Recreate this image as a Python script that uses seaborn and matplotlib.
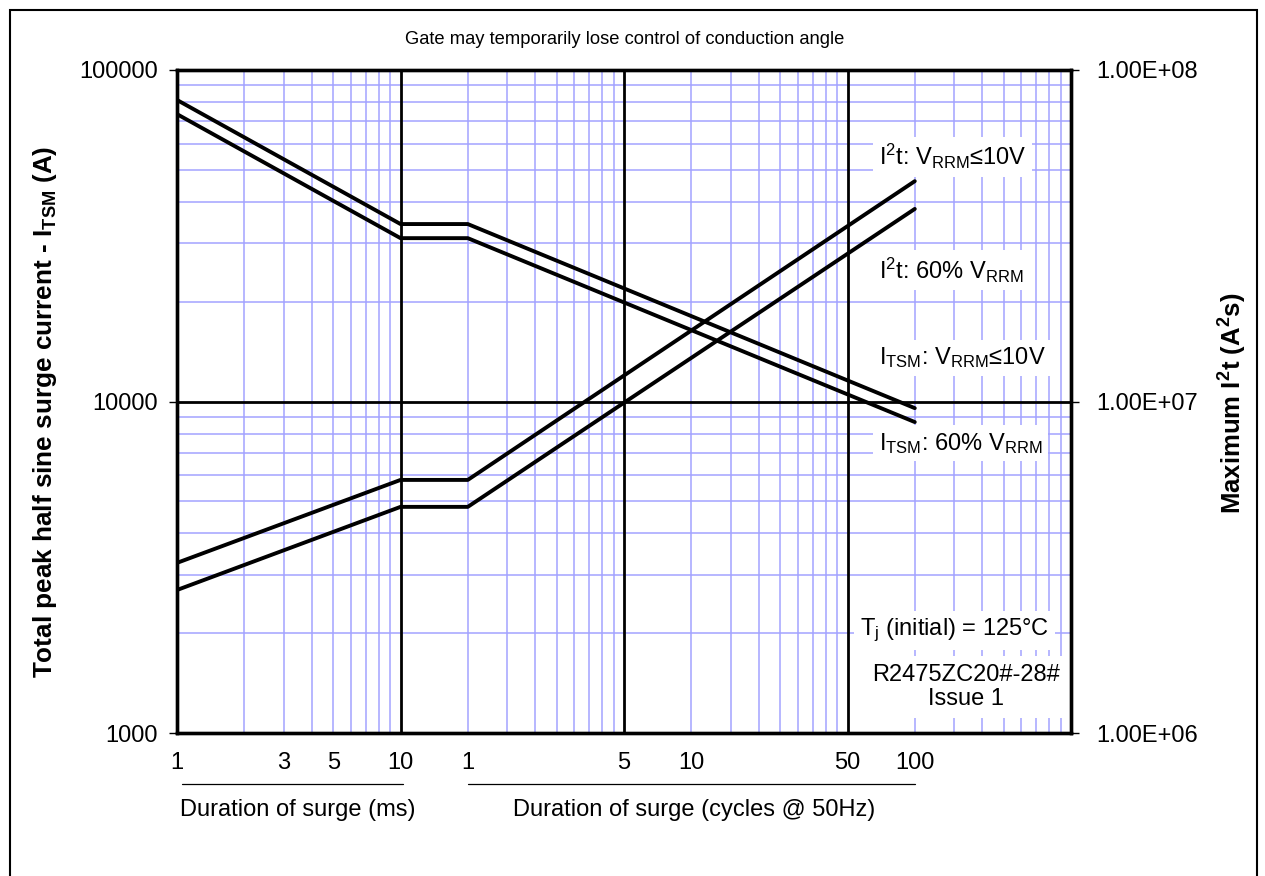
import numpy as np
import pandas as pd
import matplotlib
matplotlib.use("Agg")
import matplotlib.pyplot as plt
import matplotlib.ticker as mticker
import matplotlib.transforms as mtransforms
from matplotlib.patches import Rectangle
import seaborn as sns

# data (duration in ms, 1 cycle @ 50Hz = 20 ms)
t_ms = [1, 10, 20, 2000]
itsm_10v = [81200, 34300, 34300, 9550]
itsm_60 = [73600, 31100, 31100, 8670]
i2t_10v = [3.26e6, 5.80e6, 5.80e6, 4.62e7]
i2t_60 = [2.70e6, 4.81e6, 4.81e6, 3.81e7]

tick_pos = [1, 3, 5, 10, 20, 100, 200, 1000, 2000]
tick_lab = ["1", "3", "5", "10", "1", "5", "10", "50", "100"]

sns.set_theme(style="white")
plt.rcParams['font.family'] = ['Liberation Sans', 'DejaVu Sans']
plt.rcParams['mathtext.fontset'] = 'custom'
plt.rcParams['mathtext.rm'] = 'Liberation Sans'
plt.rcParams['mathtext.it'] = 'Liberation Sans'
plt.rcParams['mathtext.bf'] = 'Liberation Sans:bold'
for k in ['text.color', 'axes.labelcolor', 'xtick.color', 'ytick.color']:
    plt.rcParams[k] = 'black'

df_itsm = pd.DataFrame({
    't': t_ms * 2,
    'v': itsm_10v + itsm_60,
    'curve': ['ITSM 10V'] * 4 + ['ITSM 60%'] * 4,
})
df_i2t = pd.DataFrame({
    't': t_ms * 2,
    'v': i2t_10v + i2t_60,
    'curve': ['I2t 10V'] * 4 + ['I2t 60%'] * 4,
})

fig = plt.figure(figsize=(12.65, 8.76), dpi=100)
ax = fig.add_axes([177 / 1265, 1 - 733 / 876, (1071 - 177) / 1265, (733 - 70) / 876])
ax2 = ax.twinx()

blue = '#a3a3ff'
ax.set_xscale('log')
ax.set_yscale('log')
ax2.set_yscale('log')
ax.set_xlim(1, 10000)
ax.set_ylim(1000, 100000)
ax2.set_ylim(1e6, 1e8)

# grid
ax.xaxis.remove_overlapping_locs = False
ax.xaxis.set_minor_locator(mticker.LogLocator(base=10, subs=np.arange(2, 10)))
ax.yaxis.set_minor_locator(mticker.LogLocator(base=10, subs=np.arange(2, 10)))
ax.grid(which='minor', axis='both', color=blue, lw=1.1, zorder=0)
ax.grid(which='major', visible=False)
ax2.grid(False)
for xv in [10, 100, 1000]:
    ax.axvline(xv, color='black', lw=2.0, zorder=1)
ax.axhline(10000, color='black', lw=2.0, zorder=1)

sns.lineplot(data=df_itsm, x='t', y='v', hue='curve', palette=['black', 'black'],
             estimator=None, sort=False, lw=2.8, legend=False, ax=ax, zorder=3)
sns.lineplot(data=df_i2t, x='t', y='v', hue='curve', palette=['black', 'black'],
             estimator=None, sort=False, lw=2.8, legend=False, ax=ax2, zorder=3)
ax.set_xlabel('')
ax.set_ylabel('')
ax2.set_ylabel('')

# ticks
ax.set_xticks(tick_pos, labels=tick_lab)
ax.tick_params(axis='x', which='both', length=0, pad=14, labelsize=17)
ax.set_yticks([1000, 10000, 100000], labels=['1000', '10000', '100000'])
ax.tick_params(axis='y', which='major', length=6, width=1, pad=8, labelsize=17, left=True)
ax.tick_params(axis='y', which='minor', length=0)
ax2.set_yticks([1e6, 1e7, 1e8], labels=['1.00E+06', '1.00E+07', '1.00E+08'])
ax2.tick_params(axis='y', which='major', length=6, width=1, pad=12, labelsize=17, right=True)
ax2.tick_params(axis='y', which='minor', length=0)

for a in (ax, ax2):
    for s in a.spines.values():
        s.set_color('black')
        s.set_linewidth(2.4)

# curve labels
box = dict(facecolor='white', edgecolor='none', pad=4)
lab_x = 0.785
ax.text(lab_x, 0.869, r'I$^{2}$t: V$_{\mathrm{RRM}}$≤10V', transform=ax.transAxes,
        fontsize=17, va='center', ha='left', bbox=box, zorder=5)
ax.text(lab_x, 0.698, r'I$^{2}$t: 60% V$_{\mathrm{RRM}}$', transform=ax.transAxes,
        fontsize=17, va='center', ha='left', bbox=box, zorder=5)
ax.text(lab_x, 0.566, r'I$_{\mathrm{TSM}}$: V$_{\mathrm{RRM}}$≤10V', transform=ax.transAxes,
        fontsize=17, va='center', ha='left', bbox=box, zorder=5)
ax.text(lab_x, 0.437, r'I$_{\mathrm{TSM}}$: 60% V$_{\mathrm{RRM}}$', transform=ax.transAxes,
        fontsize=17, va='center', ha='left', bbox=box, zorder=5)
ax.text(0.764, 0.155, r'T$_{\mathrm{j}}$ (initial) = 125°C', transform=ax.transAxes,
        fontsize=17, va='center', ha='left', bbox=box, zorder=5)
ax.text(0.883, 0.069, 'R2475ZC20#-28#\nIssue 1', transform=ax.transAxes,
        fontsize=17, va='center', ha='center', linespacing=1.1,
        bbox=dict(facecolor='white', edgecolor='none', pad=6), zorder=5)

# duration captions under the x axis
trans = mtransforms.blended_transform_factory(ax.transData, ax.transAxes)
ax.plot([1.05, 10.3], [-0.077, -0.077], color='black', lw=0.9, transform=trans, clip_on=False)
ax.plot([20, 2000], [-0.077, -0.077], color='black', lw=0.9, transform=trans, clip_on=False)
ax.text(1.03, -0.116, 'Duration of surge (ms)', transform=trans, fontsize=17,
        ha='left', va='center')
ax.text(0.578, -0.116, 'Duration of surge (cycles @ 50Hz)', transform=ax.transAxes,
        fontsize=17, ha='center', va='center')

# axis titles and note
fig.text(45 / 1265, 1 - 412 / 876, r'Total peak half sine surge current - I$_{\mathbf{TSM}}$ (A)',
         rotation=90, fontsize=18.8, fontweight='bold', ha='center', va='center')
fig.text(1233 / 1265, 1 - 403 / 876, r'Maximum I$^{\mathbf{2}}$t (A$^{\mathbf{2}}$s)',
         rotation=90, fontsize=18.5, fontweight='bold', ha='center', va='center')
fig.text(625 / 1265, 1 - 40 / 876, 'Gate may temporarily lose control of conduction angle',
         fontsize=13.2, ha='center', va='center')

# outer frame
fig.add_artist(Rectangle((10 / 1265, -0.05), (1257 - 10) / 1265, 1.05 - 10 / 876,
                         transform=fig.transFigure, fill=False, edgecolor='black', lw=1.5))

plt.savefig('out.png', dpi=100)
plt.close()
